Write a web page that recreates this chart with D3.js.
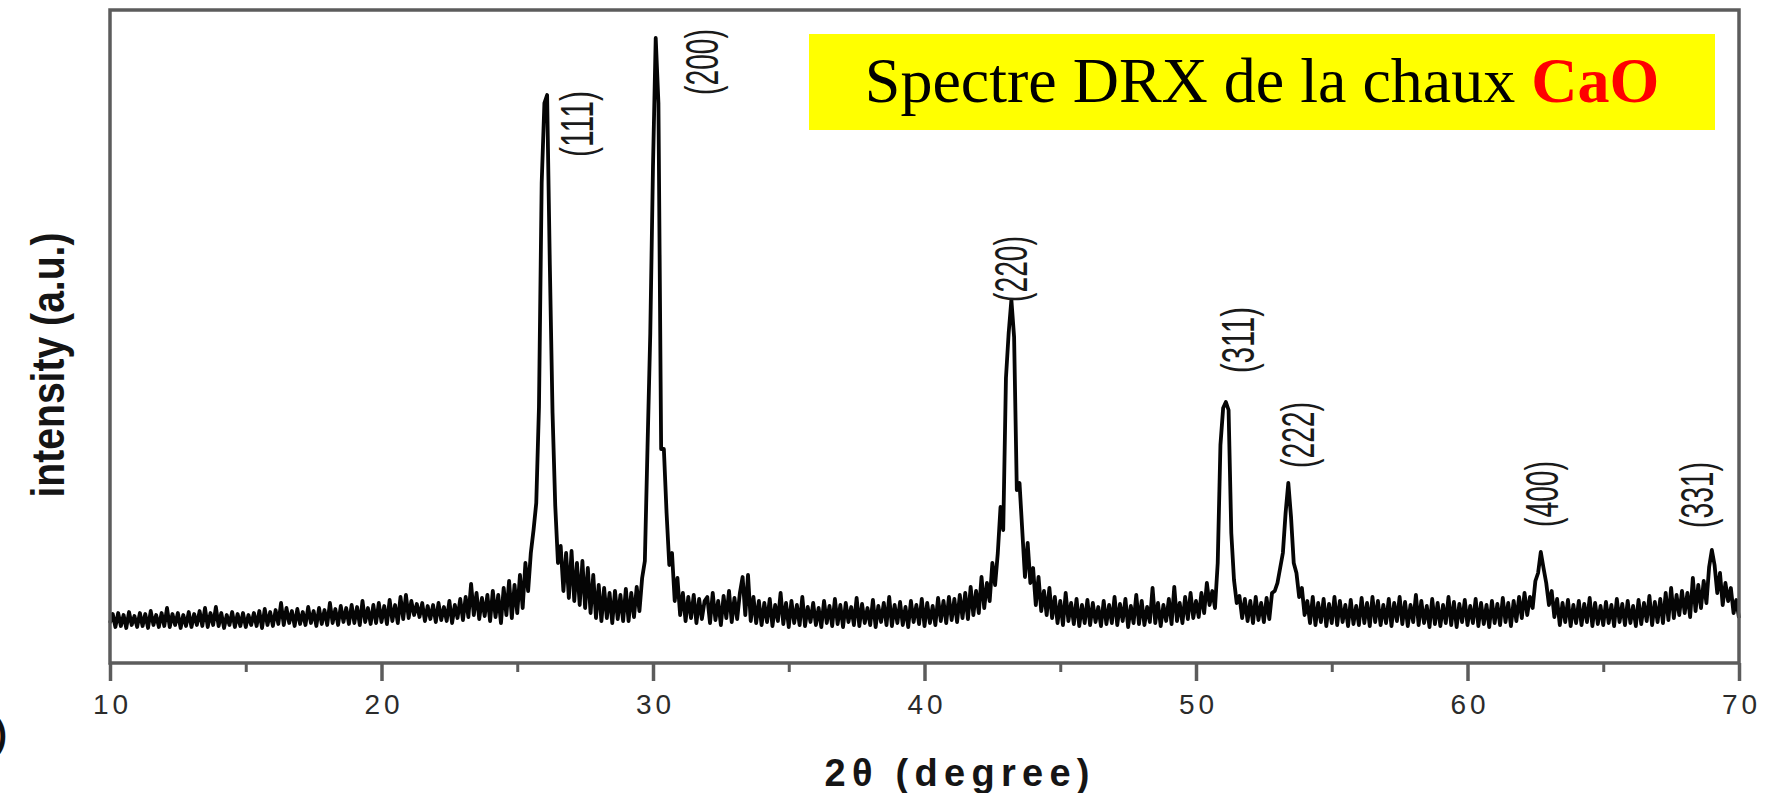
<!DOCTYPE html>
<html>
<head>
<meta charset="UTF-8">
<title>Spectre DRX CaO</title>
<script src="https://d3js.org/d3.v7.min.js"></script>
<style>
  body { margin: 0; background: #fff; }
  svg { display: block; }
</style>
</head>
<body>
<div id="chart"></div>
<script>
// intensity (a.u.), one value every 0.1 degree
const int10_20 = [
  40, 49, 36, 50, 37, 48, 35, 51, 38, 47,
  36, 50, 37, 49, 35, 52, 38, 48, 36, 50,
  37, 55, 36, 49, 38, 50, 35, 48, 37, 51,
  36, 49, 38, 52, 37, 55, 36, 50, 38, 56,
  37, 50, 35, 48, 38, 51, 36, 49, 37, 50,
  36, 48, 38, 50, 37, 52, 35, 54, 38, 51,
  37, 53, 39, 60, 38, 55, 40, 52, 37, 54,
  39, 51, 38, 56, 40, 52, 37, 55, 39, 53,
  38, 60, 40, 54, 38, 57, 41, 55, 39, 58,
  40, 56, 38, 62, 41, 55, 39, 58, 40, 60
];
const int20_30 = [
  41, 57, 39, 63, 42, 58, 40, 66, 44, 68,
  45, 62, 48, 59, 46, 60, 42, 57, 44, 58,
  41, 60, 43, 56, 42, 62, 40, 58, 45, 64,
  43, 66, 46, 79, 48, 70, 44, 65, 47, 68,
  42, 72, 46, 68, 40, 75, 48, 82, 45, 78,
  50, 88, 55, 100, 72, 110, 133, 160, 256, 480,
  560, 568, 398, 250, 157, 100, 117, 72, 110, 65,
  112, 62, 100, 58, 102, 55, 95, 50, 88, 45,
  78, 42, 75, 45, 70, 40, 72, 44, 68, 42,
  74, 42, 70, 46, 76, 52, 85, 102, 218, 330
];
const int30_40 = [
  497, 625, 560, 214, 214, 150, 98, 110, 62, 85,
  48, 70, 42, 66, 45, 68, 40, 64, 44, 62,
  66, 40, 70, 43, 62, 38, 67, 45, 72, 41,
  65, 44, 70, 86, 48, 88, 42, 66, 40, 62,
  38, 60, 41, 64, 37, 58, 42, 70, 39, 60,
  36, 62, 40, 58, 38, 66, 37, 56, 41, 60,
  38, 55, 36, 62, 40, 57, 37, 64, 39, 58,
  36, 60, 41, 56, 38, 65, 37, 59, 40, 55,
  38, 63, 36, 57, 41, 60, 38, 66, 37, 58,
  40, 61, 38, 56, 36, 62, 41, 58, 39, 64
];
const int40_50 = [
  37, 60, 40, 57, 38, 65, 42, 62, 40, 66,
  43, 64, 41, 68, 45, 70, 44, 76, 48, 72,
  50, 86, 55, 80, 62, 100, 78, 110, 156, 133,
  285, 330, 363, 326, 173, 180, 133, 86, 120, 80,
  95, 58, 86, 52, 72, 48, 75, 45, 66, 40,
  62, 38, 70, 42, 60, 39, 64, 37, 58, 40,
  63, 38, 60, 41, 56, 37, 62, 39, 58, 40,
  66, 38, 59, 42, 64, 36, 57, 40, 68, 39,
  62, 38, 56, 41, 75, 40, 60, 37, 58, 42,
  64, 39, 76, 42, 60, 40, 66, 44, 70, 45
];
const int50_60 = [
  62, 46, 70, 50, 80, 58, 72, 55, 100, 218,
  255, 261, 253, 130, 83, 60, 67, 45, 64, 42,
  62, 40, 66, 43, 60, 41, 65, 44, 70, 72,
  80, 95, 110, 150, 180, 146, 100, 90, 66, 75,
  48, 62, 40, 66, 38, 60, 41, 64, 37, 59,
  40, 66, 38, 62, 41, 58, 37, 63, 39, 57,
  38, 65, 40, 60, 37, 66, 41, 62, 38, 58,
  40, 64, 37, 60, 42, 66, 39, 61, 37, 58,
  41, 68, 38, 62, 40, 57, 36, 64, 39, 60,
  37, 58, 40, 66, 38, 61, 36, 59, 41, 63
];
const int60_70 = [
  38, 57, 40, 64, 37, 60, 39, 58, 36, 62,
  40, 59, 38, 65, 41, 60, 37, 62, 42, 66,
  45, 70, 48, 66, 55, 82, 90, 111, 95, 80,
  58, 72, 46, 64, 38, 60, 41, 63, 37, 58,
  40, 62, 38, 59, 41, 65, 37, 60, 39, 57,
  38, 61, 40, 58, 37, 64, 41, 59, 38, 62,
  40, 57, 37, 63, 39, 60, 42, 67, 38, 61,
  41, 64, 40, 70, 43, 75, 45, 68, 48, 72,
  50, 70, 46, 85, 52, 78, 55, 82, 60, 96,
  113, 98, 70, 90, 58, 80, 62, 75, 50, 63,
  45
];

const startAngle = 10, stepAngle = 0.1;

const majorTicks = [10, 20, 30, 40, 50, 60, 70];
const minorTicks = [15, 25, 35, 45, 55, 65];

// Miller indices: 2theta of the label centre, intensity at the label foot
const peakLabels = ["(111)", "(200)", "(220)", "(311)", "(222)", "(400)", "(331)"];
const peakAngles = [27.2, 31.8, 43.2, 51.55, 53.75, 62.75, 68.45];
const peakLabelFoot = [506, 568, 361, 290, 195, 136, 135];

const width = 1771, height = 793;
const margin = { top: 10, right: 32, bottom: 130, left: 110 };

const svg = d3.select("#chart").append("svg")
  .attr("width", width)
  .attr("height", height);

svg.append("rect").attr("width", width).attr("height", height).attr("fill", "#fff");

const x = d3.scaleLinear()
  .domain([10, 70])
  .range([margin.left, width - margin.right]);

const y = d3.scaleLinear()
  .domain([0, 653])
  .range([height - margin.bottom, margin.top]);

// flatten the scan
const values = [].concat(int10_20, int20_30, int30_40, int40_50, int50_60, int60_70);
const scan = values.map((v, i) => ({ t: startAngle + i * stepAngle, v: v }));

// spectrum
svg.append("path")
  .datum(scan)
  .attr("fill", "none")
  .attr("stroke", "#050505")
  .attr("stroke-width", 3.8)
  .attr("stroke-linejoin", "round")
  .attr("d", d3.line()
    .x(d => x(d.t))
    .y(d => y(d.v)));

// frame
const frameColor = "#5c5c5c";
const x0 = x(10), x1 = x(70), yTop = y(653), yBot = y(0);
svg.append("path")
  .attr("d", `M${x0},${yBot}V${yTop}H${x1}V${yBot}Z`)
  .attr("fill", "none")
  .attr("stroke", frameColor)
  .attr("stroke-width", 3.5);

// x axis, major + minor ticks
const axisMajor = svg.append("g")
  .attr("transform", `translate(0,${yBot})`)
  .call(d3.axisBottom(x).tickValues(majorTicks).tickSize(18).tickPadding(13).tickFormat(d3.format("d")));
axisMajor.select(".domain").remove();
axisMajor.selectAll(".tick line").attr("stroke", frameColor).attr("stroke-width", 3.5);
axisMajor.selectAll(".tick text")
  .attr("fill", "#2b2b2b")
  .attr("dx", "2px")
  .style("font-family", "'Liberation Sans', Arial, sans-serif")
  .style("font-size", "28px")
  .style("letter-spacing", "4px");

const axisMinor = svg.append("g")
  .attr("transform", `translate(0,${yBot})`)
  .call(d3.axisBottom(x).tickValues(minorTicks).tickSize(9).tickFormat(""));
axisMinor.select(".domain").remove();
axisMinor.selectAll(".tick line").attr("stroke", frameColor).attr("stroke-width", 3);

// axis titles
svg.append("text")
  .attr("x", 957)
  .attr("y", 786)
  .attr("text-anchor", "middle")
  .attr("textLength", 265)
  .attr("lengthAdjust", "spacing")
  .style("font-family", "'Liberation Sans', Arial, sans-serif")
  .style("font-weight", "bold")
  .style("font-size", "38px")
  .attr("fill", "#151515")
  .text("2θ (degree)");

svg.append("text")
  .attr("transform", "translate(64,365) rotate(-90)")
  .attr("text-anchor", "middle")
  .attr("textLength", 265)
  .attr("lengthAdjust", "spacingAndGlyphs")
  .style("font-family", "'Liberation Sans', Arial, sans-serif")
  .style("font-weight", "bold")
  .style("font-size", "46px")
  .attr("fill", "#151515")
  .text("intensity (a.u.)");

// leftover bracket of the panel letter at the left edge
svg.append("text")
  .attr("x", -5)
  .attr("y", 746)
  .style("font-family", "'Liberation Sans', Arial, sans-serif")
  .style("font-weight", "bold")
  .style("font-size", "36px")
  .attr("fill", "#111")
  .text(")");

// peak labels, rotated, squeezed like the original
svg.selectAll(".peak")
  .data(peakLabels)
  .enter()
  .append("text")
  .attr("class", "peak")
  .attr("transform", (d, i) => `translate(${x(peakAngles[i]) + 16},${y(peakLabelFoot[i])}) rotate(-90)`)
  .attr("textLength", 66)
  .attr("lengthAdjust", "spacingAndGlyphs")
  .style("font-family", "'Liberation Sans', Arial, sans-serif")
  .style("font-size", "46px")
  .attr("fill", "#1a1a1a")
  .text(d => d);

// title box
svg.append("rect")
  .attr("x", 809)
  .attr("y", 34)
  .attr("width", 906)
  .attr("height", 96)
  .attr("fill", "#ffff00");

const title = svg.append("text")
  .attr("x", 1262)
  .attr("y", 102)
  .attr("text-anchor", "middle")
  .style("font-family", "'Liberation Serif', 'Times New Roman', serif")
  .style("font-size", "64px")
  .attr("fill", "#000");
title.append("tspan").text("Spectre DRX de la chaux ");
title.append("tspan").attr("fill", "#ff0000").style("font-weight", "bold").text("CaO");
</script>
</body>
</html>
